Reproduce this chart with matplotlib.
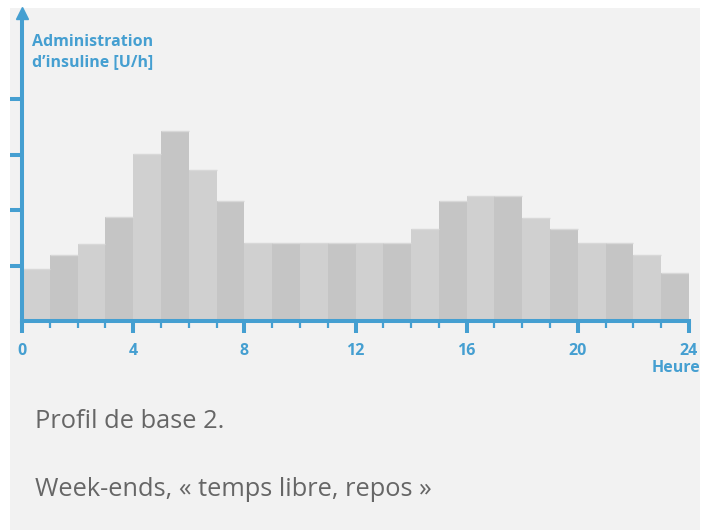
import matplotlib.pyplot as plt
from matplotlib.patches import Rectangle

# basal rate per hour (U/h)
hours = list(range(24))
rates = [0.94, 1.19, 1.38, 1.87, 3.01, 3.42, 2.73, 2.16,
         1.40, 1.40, 1.40, 1.40, 1.40, 1.40, 1.66, 2.16,
         2.26, 2.26, 1.86, 1.66, 1.40, 1.40, 1.19, 0.86]
x_ticks = [0, 4, 8, 12, 16, 20, 24]
y_ticks = [1, 2, 3, 4]

blue = '#459fd1'
W, H = 717, 530

plt.rcParams['font.family'] = ['Open Sans', 'DejaVu Sans']

fig = plt.figure(figsize=(W / 100, H / 100), dpi=100)
fig.patch.set_facecolor('white')
fig.patches.append(Rectangle((10 / W, 0), 690 / W, 522 / H, transform=fig.transFigure,
                             facecolor='#f2f2f2', edgecolor='none', zorder=-10))

ax = fig.add_axes([22 / W, 1 - 321 / H, 667 / W, 305 / H])
ax.set_facecolor('none')
ax.set_zorder(2)

colors = ['#d0d0d0' if i % 2 == 0 else '#c5c5c5' for i in hours]
ax.bar(hours, rates, width=1.0, align='edge', color=colors, edgecolor='none', zorder=1)
# faint lighter top edge on each bar
ax.hlines(rates, hours, [h + 1 for h in hours], colors='#d8d8d8', linewidth=1, zorder=2)

ax.set_xlim(0, 24)
ax.set_ylim(0, 5.5)

for s in ['top', 'right']:
    ax.spines[s].set_visible(False)
for s in ['left', 'bottom']:
    ax.spines[s].set_color(blue)
    ax.spines[s].set_linewidth(2.9)
    ax.spines[s].set_zorder(3)

ax.set_xticks(x_ticks)
ax.set_xticklabels([str(t) for t in x_ticks], color=blue, fontweight='bold', fontsize=11.5)
ax.set_xticks(hours[1:], minor=True)
ax.tick_params(axis='x', which='major', length=8.5, width=2.9, color=blue, pad=7.5)
ax.tick_params(axis='x', which='minor', length=5, width=1.6, color=blue)

ax.set_yticks(y_ticks)
ax.set_yticklabels([])
ax.tick_params(axis='y', which='major', length=8.5, width=2.9, color=blue)

# arrow head on the y axis
ax.plot([0], [5.56], marker='^', markersize=8, color=blue, clip_on=False, zorder=4)

fig.text(32 / W, 1 - 34 / H, 'Administration\nd\u2019insuline [U/h]', color=blue,
         fontweight='bold', fontsize=11.5, va='top', ha='left', linespacing=1.35)
fig.text(700 / W, 1 - 368 / H, 'Heure', color=blue, fontweight='bold', fontsize=11.5,
         va='center', ha='right')

fig.text(35 / W, 1 - 421 / H, 'Profil de base 2.', color='#666666', fontsize=18.3,
         va='center', ha='left')
fig.text(35 / W, 1 - 489 / H, 'Week-ends, \u00ab temps libre, repos \u00bb', color='#666666',
         fontsize=18.3, va='center', ha='left')

fig.savefig('out.png', dpi=100, facecolor='white')
